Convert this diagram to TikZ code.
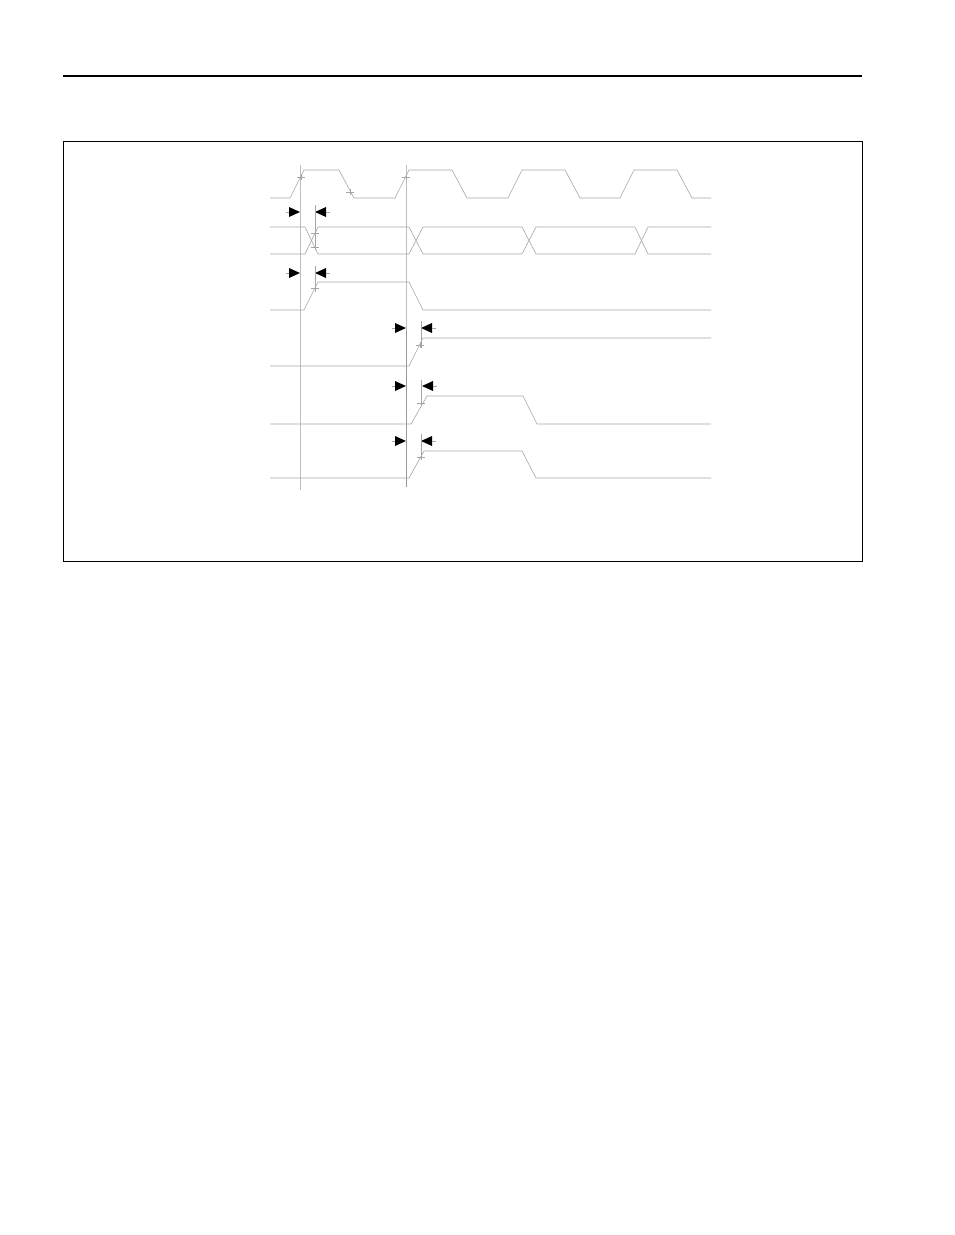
\documentclass[tikz,border=0pt]{standalone}
\tikzset{
    wave/.style={color=black!35,line width=0.6pt},
    guide/.style={color=black!25,line width=0.6pt},
    tick/.style={color=black!35,line width=0.4pt},
}
\newcommand\SkewArrows[3]{% y, tip of right arrow, tip of left arrow
    \fill (#2-11,#1-5) -- (#2,#1) -- (#2-11,#1+5) -- cycle;
    \fill (#3+11,#1-5) -- (#3,#1) -- (#3+11,#1+5) -- cycle;
    \draw[tick] (#2-14,#1) -- (#2-11,#1);
    \draw[tick] (#3+11,#1) -- (#3+15,#1);
}
\newcommand\Cross[2]{%
    \draw[tick] (#1-4,#2) -- (#1+4,#2) (#1,#2-3) -- (#1,#2+3);
}

\begin{document}
\begin{tikzpicture}[x=1pt,y=-1pt]
    \useasboundingbox (0,0) rectangle (954,1235);
    \draw[line width=1.2pt] (63,76) -- (862,76);
    \draw[line width=0.9pt] (63,141) rectangle (862,561);
    % guides
    \draw[guide] (300,165) -- (300,490);
    \draw[guide] (406,165) -- (406,487);
    \draw[guide,color=black!40] (406,330) -- (406,487);
    \begin{scope}[wave] % clock
        \draw (270,198) foreach \r/\f in {290/339,395/452,508/565,620/677}
            { -- (\r,198) -- (\r+14,170) -- (\f,170) -- (\f+15,198) } -- (711,198);
    \end{scope}
    \Cross{301}{177}
    \Cross{350}{192}
    \Cross{406}{177}
    \begin{scope}[wave] % bus
        \draw (270,227) -- (305,227) -- (318,254) -- (409,254) -- (423,227)
            -- (522,227) -- (536,254) -- (635,254) -- (648,227) -- (711,227);
        \draw (270,254) -- (305,254) -- (318,227) -- (409,227) -- (423,254)
            -- (522,254) -- (536,227) -- (635,227) -- (648,254) -- (711,254);
    \end{scope}
    \SkewArrows{212}{300}{315}
    \draw[tick] (315,205) -- (315,250);
    \Cross{315}{233}
    \Cross{315}{247}
    \begin{scope}[wave] % row 3
        \draw (270,310) -- (304,310) -- (318,282) -- (409,282) -- (423,310) -- (711,310);
    \end{scope}
    \SkewArrows{273}{300}{315}
    \draw[tick] (315,266) -- (315,292);
    \Cross{315}{288}
    \begin{scope}[wave] % row 4
        \draw (270,366) -- (409,366) -- (423,338) -- (711,338);
    \end{scope}
    \SkewArrows{328}{406}{421}
    \draw[tick] (421,321) -- (421,348);
    \Cross{420}{345}
    \begin{scope}[wave] % row 5
        \draw (270,424) -- (411,424) -- (427,396) -- (523,396) -- (537,424) -- (711,424);
    \end{scope}
    \SkewArrows{386}{406}{422}
    \draw[tick] (421,380) -- (421,405);
    \Cross{421}{403}
    \begin{scope}[wave] % row 6
        \draw (270,478) -- (409,478) -- (424,451) -- (522,451) -- (536,478) -- (711,478);
    \end{scope}
    \SkewArrows{441}{406}{421}
    \draw[tick] (421,434) -- (421,459);
    \Cross{421}{457}
\end{tikzpicture}
\end{document}
